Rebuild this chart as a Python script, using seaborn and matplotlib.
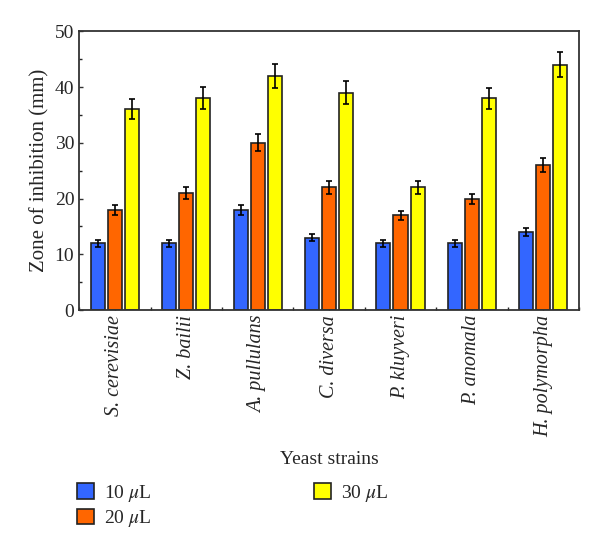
import numpy as np
import pandas as pd
import seaborn as sns
import matplotlib.pyplot as plt
from matplotlib.ticker import MultipleLocator

# veriler
strains = ["S. cerevisiae", "Z. bailii", "A. pullulans", "C. diversa",
           "P. kluyveri", "P. anomala", "H. polymorpha"]
doses = ["10 $\\mu$L", "20 $\\mu$L", "30 $\\mu$L"]
vals_10 = [12, 12, 18, 13, 12, 12, 14]
vals_20 = [18, 21, 30, 22, 17, 20, 26]
vals_30 = [36, 38, 42, 39, 22, 38, 44]
err_10 = [0.6, 0.6, 0.9, 0.6, 0.6, 0.6, 0.7]
err_20 = [0.9, 1.0, 1.5, 1.1, 0.8, 0.9, 1.3]
err_30 = [1.8, 2.0, 2.1, 2.0, 1.1, 1.9, 2.2]
colors = ["#3366FF", "#FF6600", "#FFFF00"]

rows = []
for d, v, e in zip(doses, [vals_10, vals_20, vals_30], [err_10, err_20, err_30]):
    for s, vv, ee in zip(strains, v, e):
        rows.append({"strain": s, "dose": d, "value": vv, "err": ee})
df = pd.DataFrame(rows)

sns.set_style("ticks")
plt.rcParams["font.family"] = ["Liberation Serif", "DejaVu Serif"]
plt.rcParams["mathtext.fontset"] = "stix"

fig = plt.figure(figsize=(6, 5.48), dpi=100)
ax = fig.add_axes([0.132, 0.434, 0.833, 0.509])

sns.barplot(data=df, x="strain", y="value", hue="dose", palette=colors,
            saturation=1, width=0.72, gap=0.18, edgecolor="#222222", linewidth=1.2,
            errorbar=None, ax=ax)

# hata çubukları - patch merkezlerinden
patches = [p for p in ax.patches if p.get_height() > 0]
for p, (_, r) in zip(patches, df.iterrows()):
    ax.errorbar(p.get_x() + p.get_width() / 2, r["value"], yerr=r["err"],
                fmt="none", ecolor="black", elinewidth=1.2, capsize=2.5, capthick=1.2)

ax.set_ylim(0, 50)
ax.set_xlim(-0.5, 6.5)
ax.yaxis.set_major_locator(MultipleLocator(10))
ax.yaxis.set_minor_locator(MultipleLocator(5))
ax.set_xticks(np.arange(7))
ax.set_xticklabels(strains, rotation=90, style="italic", fontsize=14.5)
ax.set_xticks(np.arange(-0.5, 7, 1), minor=True)
ax.tick_params(axis="both", direction="in", length=3, width=1, color="#333333")
ax.tick_params(axis="both", which="minor", direction="in", length=2.5, width=1)
ax.tick_params(axis="y", labelsize=14)
for sp in ax.spines.values():
    sp.set_visible(True)
    sp.set_linewidth(1.3)
    sp.set_color("#333333")

ax.set_ylabel("Zone of inhibition (mm)", fontsize=15, labelpad=4)
ax.set_xlabel("Yeast strains", fontsize=14, labelpad=10)

ax.legend(loc="upper left", bbox_to_anchor=(-0.023, -0.583), ncol=2, frameon=False,
          fontsize=14, handlelength=0.85, handleheight=0.85, columnspacing=8.4,
          labelspacing=0.25, handletextpad=0.5, borderpad=0)

plt.savefig("out.png", dpi=100)
